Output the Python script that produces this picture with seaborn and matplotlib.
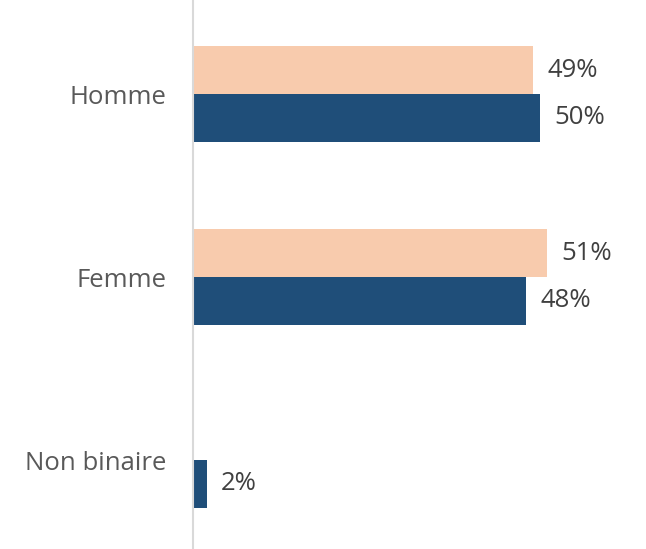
import numpy as np
import pandas as pd
import matplotlib
matplotlib.use("Agg")
import matplotlib.pyplot as plt
import seaborn as sns

# Data
categories = ["Homme", "Femme", "Non binaire"]
series_names = ["Référence", "Répondants"]
reference_values = [49, 51, np.nan]
respondent_values = [50, 48, 2]
series_colors = ["#F8CBAD", "#1F4E79"]

df = pd.DataFrame({
    "categorie": categories * 2,
    "serie": [series_names[0]] * 3 + [series_names[1]] * 3,
    "valeur": reference_values + respondent_values,
}).dropna()

sns.set_theme(style="white")
plt.rcParams["font.family"] = ["Open Sans", "DejaVu Sans"]

fig = plt.figure(figsize=(6.46, 5.49), dpi=100)
ax = fig.add_axes([193 / 646, 0.0, 1 - 193 / 646, 1.0])

sns.barplot(
    data=df, y="categorie", x="valeur", hue="serie",
    order=categories, hue_order=series_names,
    palette=series_colors, orient="h", width=0.52,
    dodge=True, gap=0, saturation=1, legend=False, ax=ax,
    edgecolor="none", linewidth=0,
)

for container in ax.containers:
    labels = [f"{v:.0f}%" if v > 0 else "" for v in container.datavalues]
    ax.bar_label(container, labels=labels, padding=10,
                 fontsize=18.5, color="#404040")

ax.set_xlim(0, 65.2)
ax.set_ylim(2.486, -0.514)
ax.set_xlabel("")
ax.set_ylabel("")
ax.set_xticks([])
ax.tick_params(axis="y", length=0, pad=19, labelsize=18.5, labelcolor="#595959")

for side in ["top", "right", "bottom"]:
    ax.spines[side].set_visible(False)
ax.spines["left"].set_color("#D9D9D9")
ax.spines["left"].set_linewidth(1.5)

fig.savefig("out.png", dpi=100, facecolor="white")
